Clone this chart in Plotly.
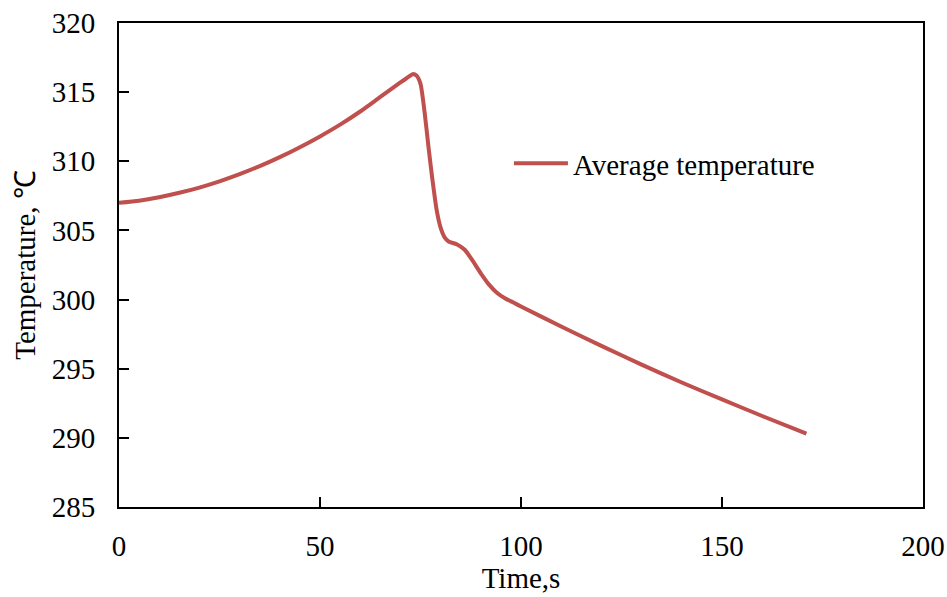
import plotly.graph_objects as go

time_s = [0, 5, 10, 15, 20, 25, 30, 35, 40, 45, 50, 55, 60, 65, 70, 72, 73, 74, 75, 76, 77, 78, 79, 80,
          81, 82, 84, 86, 88, 90, 92, 94, 96, 98, 100, 110, 120, 130, 140, 150, 160, 171]
avg_temp = [307.0, 307.15, 307.4, 307.72, 308.1, 308.55, 309.07, 309.65, 310.3, 311.02, 311.8, 312.65, 313.6,
            314.65, 315.7, 316.1, 316.3, 316.2, 315.6, 313.6, 311.0, 308.6, 306.5, 305.2,
            304.5, 304.2, 304.0, 303.6, 302.8, 301.9, 301.1, 300.5, 300.1, 299.8, 299.5,
            298.05, 296.65, 295.3, 294.0, 292.78, 291.58, 290.3]
series_name = "Average temperature"
x_ticks = [0, 50, 100, 150, 200]
y_ticks = [285, 290, 295, 300, 305, 310, 315, 320]

FONT = "Liberation Serif, Times New Roman, serif"

fig = go.Figure()
fig.add_trace(go.Scatter(x=time_s, y=avg_temp, mode="lines", name=series_name,
                         line=dict(color="#C0504D", width=4, shape="spline", smoothing=0.6)))

fig.update_layout(
    width=947, height=597,
    margin=dict(l=119, r=24, t=23, b=90, autoexpand=False),
    paper_bgcolor="white", plot_bgcolor="white",
    font=dict(family=FONT, size=29, color="black"),
    showlegend=True,
    legend=dict(x=0.485, y=0.71, xanchor="left", yanchor="middle", bgcolor="rgba(0,0,0,0)",
                font=dict(family=FONT, size=29, color="black"), itemwidth=54),
)
fig.update_xaxes(range=[0, 200], tickvals=x_ticks, ticks="inside", ticklen=10, tickwidth=2,
                 tickcolor="black", showline=True, linecolor="black", linewidth=2, mirror=True,
                 showgrid=False, zeroline=False, ticklabelstandoff=12, automargin=False,
                 title=dict(text="Time,s", standoff=4, font=dict(family=FONT, size=29)))
fig.update_yaxes(range=[285, 320], tickvals=y_ticks, ticks="inside", ticklen=10, tickwidth=2,
                 tickcolor="black", showline=True, linecolor="black", linewidth=2, mirror=True,
                 showgrid=False, zeroline=False, ticklabelstandoff=16, automargin=False,
                 title=dict(text="Temperature, ℃", standoff=8, font=dict(family=FONT, size=29)))

fig.write_html("out.html")
